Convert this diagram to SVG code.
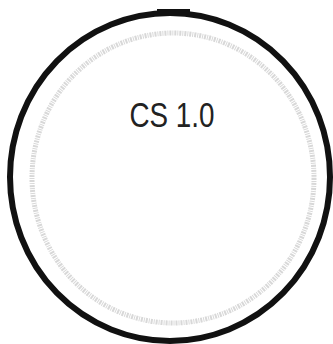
<svg xmlns="http://www.w3.org/2000/svg" width="333" height="344" viewBox="0 0 333 344">
<style>
.outer{fill:none;stroke:#111;stroke-width:6}
.inner{fill:none;stroke:#d8d8d8;stroke-width:5;stroke-dasharray:2 1 1 1}
.lbl{font-family:"Liberation Sans",Arial,sans-serif;font-size:35px;fill:#222}
</style>
<rect width="333" height="344" fill="#fff"/>
<g id="cs10">
<ellipse class="outer" cx="170" cy="177" rx="160" ry="164"/>
<rect x="157" y="9" width="33" height="6" fill="#111"/>
<ellipse class="inner" cx="173" cy="178" rx="141" ry="145"/>
<text class="lbl" x="172" y="127" text-anchor="middle" textLength="85" lengthAdjust="spacingAndGlyphs">CS 1.0</text>
</g>
</svg>
